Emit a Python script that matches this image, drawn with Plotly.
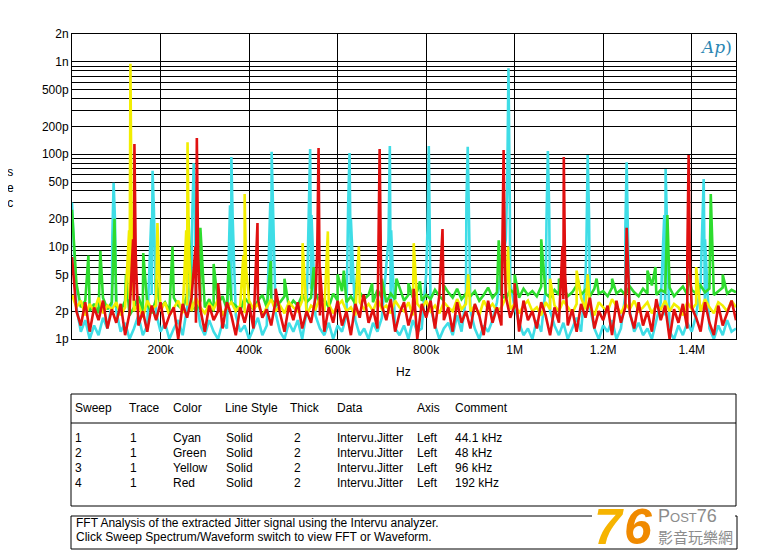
import math
import plotly.graph_objects as go

# ---------------- data (values in ps, frequencies in kHz) ----------------
grid_khz = list(range(0, 1501, 10))

cyan_noise = [30, 2.2, 1.2, 1.6, 1.0, 1.4, 1.1, 1.7, 1.3, 2.4,
              2.0, 1.2, 1.5, 1.0, 1.3, 1.8, 1.1, 1.4, 3.0, 1.9,
              1.2, 1.5, 1.0, 1.3, 1.6, 1.1, 2.2, 5.0, 2.8, 1.4,
              1.1, 1.6, 1.2, 1.0, 1.5, 1.3, 2.5, 1.8, 1.2, 1.4,
              1.0, 1.3, 1.7, 1.1, 1.4, 2.6, 1.9, 1.2, 1.0, 1.5,
              1.2, 1.6, 1.0, 2.0, 3.5, 1.8, 1.3, 1.1, 1.5, 1.0,
              1.4, 1.2, 1.8, 4.0, 1.6, 1.1, 1.3, 1.0, 1.5, 1.2,
              1.7, 6.0, 2.5, 1.3, 1.1, 1.4, 1.0, 1.6, 1.2, 1.3,
              5.0, 2.2, 1.4, 1.0, 1.3, 1.5, 1.1, 1.8, 1.2, 2.8,
              2.0, 1.3, 1.0, 1.4, 1.2, 1.6, 2.5, 6.0, 12, 4.0,
              2.2, 1.5, 1.1, 1.3, 1.0, 1.6, 1.2, 3.5, 2.0, 1.4,
              1.1, 1.5, 1.0, 1.3, 1.7, 1.2, 4.5, 2.2, 1.3, 1.0,
              1.4, 1.2, 1.6, 1.0, 1.3, 3.0, 2.0, 1.2, 1.5, 1.1,
              1.3, 1.0, 1.6, 2.5, 1.8, 1.2, 1.0, 1.4, 1.1, 1.5,
              1.2, 1.8, 4.0, 2.0, 1.3, 1.0, 1.4, 1.1, 1.6, 1.2, 1.3]
cyan_spur_khz = [91, 94, 97, 179, 182, 185, 272, 275, 278, 357, 360, 363,
                 448, 451, 454, 535, 538, 541, 624, 627, 630, 715, 718, 721,
                 803, 806, 809, 891, 894, 897, 983, 986, 989, 1072, 1075, 1078,
                 1162, 1165, 1168, 1250, 1253, 1256, 1338, 1341, 1344, 1424, 1427, 1430]
cyan_spur_ps = [12, 49, 20, 20, 66, 25, 25, 80, 22, 28, 93, 20,
                30, 106, 25, 30, 114, 22, 30, 103, 20, 12, 123, 15,
                15, 123, 12, 30, 120, 18, 40, 850, 30, 20, 108, 25,
                10, 98, 22, 15, 82, 12, 22, 69, 15, 15, 54, 12]

green_noise = [25, 4.0, 2.2, 2.6, 2.0, 2.4, 1.9, 2.8, 2.1, 2.5,
               2.3, 2.0, 2.6, 1.8, 2.2, 2.9, 2.0, 2.4, 1.9, 2.7,
               2.2, 2.5, 2.0, 2.8, 2.3, 2.1, 3.0, 2.4, 2.0, 2.6,
               2.2, 2.7, 2.0, 2.4, 2.9, 2.1, 2.5, 2.3, 2.0, 2.8,
               2.4, 2.1, 2.6, 3.0, 2.2, 2.7, 2.3, 2.5, 2.9, 2.2,
               2.6, 2.3, 3.0, 2.5, 2.8, 3.2, 2.4, 2.7, 2.2, 3.1,
               2.6, 3.3, 2.5, 2.9, 2.4, 3.2, 2.7, 3.0, 2.5, 3.4,
               2.8, 2.5, 3.1, 2.7, 3.5, 2.6, 3.0, 2.8, 3.3, 2.6,
               3.0, 2.7, 3.4, 2.9, 2.6, 3.2, 2.8, 3.5, 2.7, 3.1,
               2.9, 3.3, 2.6, 3.0, 3.6, 2.8, 3.2, 3.0, 2.7, 3.4,
               3.1, 2.8, 3.5, 3.0, 3.3, 2.9, 3.7, 3.1, 2.8, 3.4,
               3.0, 3.6, 2.9, 3.2, 3.8, 3.0, 3.4, 2.9, 3.5, 3.1,
               3.3, 2.9, 3.6, 3.1, 3.4, 3.0, 3.7, 3.2, 2.9, 3.5,
               3.1, 3.8, 3.0, 3.4, 3.2, 3.6, 2.9, 3.3, 3.7, 3.0,
               3.4, 3.1, 3.8, 3.2, 3.5, 3.0, 3.3, 3.6, 3.1, 3.4, 3.2]
green_spur_khz = [37, 64, 96, 122, 161, 190, 227, 263, 290, 320, 354, 449, 480,
                  546, 600, 614, 646, 678, 700, 733, 760, 786, 840, 964, 1000,
                  1060, 1100, 1142, 1185, 1220, 1300, 1318, 1345, 1392, 1443, 1470]
green_spur_ps = [8, 9, 20, 5, 8.5, 4.5, 10, 21, 16, 6.5, 7, 7, 4.5,
                 6, 5, 5.5, 7, 4, 4.5, 4.5, 4, 4.2, 3.8, 11.7, 5,
                 12, 4.5, 4.5, 4.5, 4.5, 5.5, 6, 22, 5, 37, 5]

yellow_noise = [3.0, 2.2, 2.6, 1.8, 2.4, 2.0, 2.8, 1.9, 2.3, 2.1,
                2.5, 1.8, 2.2, 2.7, 2.0, 2.4, 1.7, 2.6, 2.1, 2.3,
                2.0, 2.5, 1.8, 2.2, 2.6, 1.9, 2.3, 2.0, 2.8, 2.2,
                1.9, 2.4, 2.1, 2.7, 1.8, 2.2, 2.5, 2.0, 2.3, 1.9,
                2.6, 2.1, 2.4, 1.8, 2.2, 2.7, 2.0, 2.3, 1.9, 2.5,
                2.2, 2.0, 2.6, 1.8, 2.3, 2.1, 2.8, 2.0, 2.4, 1.9,
                2.3, 2.6, 2.0, 2.2, 1.8, 2.5, 2.1, 2.4, 2.0, 2.7,
                2.1, 2.3, 1.9, 2.6, 2.2, 2.0, 2.5, 1.8, 2.4, 2.1,
                2.6, 2.0, 2.3, 1.9, 2.5, 2.2, 2.0, 2.7, 2.1, 2.4,
                2.0, 2.3, 1.8, 2.6, 2.1, 2.4, 2.0, 2.2, 2.8, 2.1,
                2.4, 1.9, 2.3, 2.6, 2.0, 2.2, 1.8, 2.5, 2.1, 2.3,
                2.0, 2.6, 2.2, 1.9, 2.4, 2.8, 2.1, 2.3, 1.8, 2.5,
                2.2, 2.0, 2.7, 2.3, 1.9, 2.4, 2.1, 2.6, 2.0, 2.2,
                2.5, 1.9, 2.3, 2.1, 2.6, 2.0, 2.4, 2.2, 1.8, 2.5,
                2.1, 2.4, 2.0, 2.7, 2.2, 1.9, 2.5, 2.3, 2.0, 2.6, 2.2]
yellow_spur_khz = [129, 132, 135, 193, 258, 261, 264, 387, 390, 393, 521, 578,
                   648, 772, 895, 985, 1080, 1140, 1165, 1410]
yellow_spur_ps = [15, 950, 12, 18, 15, 135, 10, 8, 37, 6, 10.9, 14.6,
                  10, 10.9, 5, 10, 4.5, 5.5, 5, 6]

red_noise = [7.7, 2.0, 1.4, 2.5, 1.2, 2.2, 1.6, 2.6, 1.3, 2.1,
             1.5, 2.4, 1.1, 1.9, 2.6, 1.4, 2.0, 1.2, 2.3, 1.6,
             2.5, 1.3, 1.8, 2.2, 1.0, 2.4, 1.7, 2.8, 1.5, 2.1,
             1.2, 2.3, 1.6, 2.0, 1.3, 2.5, 1.8, 1.1, 2.2, 1.5,
             2.4, 1.3, 2.7, 1.7, 2.1, 1.4, 2.6, 1.9, 1.2, 2.3,
             1.6, 2.5, 1.3, 2.0, 1.5, 2.8, 1.8, 1.2, 2.2, 1.5,
             2.6, 1.4, 2.0, 1.1, 2.4, 1.7, 2.9, 1.5, 2.1, 1.3,
             2.3, 1.6, 2.7, 1.2, 1.9, 2.5, 1.4, 2.1, 1.0, 2.4,
             1.7, 2.6, 1.3, 3.0, 1.6, 2.2, 1.2, 2.5, 1.5, 2.0,
             1.3, 2.4, 1.8, 1.1, 2.6, 1.5, 2.2, 1.4, 2.9, 1.7,
             2.3, 1.2, 2.6, 1.6, 2.0, 1.3, 2.5, 1.8, 1.1, 2.2,
             1.5, 2.7, 1.4, 2.1, 1.2, 2.4, 1.7, 2.8, 1.3, 2.0,
             1.6, 2.3, 1.1, 2.6, 1.5, 2.2, 1.9, 1.3, 2.5, 1.4,
             2.0, 1.2, 2.7, 1.6, 2.3, 1.0, 2.1, 1.5, 2.4, 1.3,
             2.2, 1.7, 1.2, 2.5, 1.5, 1.1, 2.3, 1.4, 1.9, 2.6, 1.6]
red_spur_khz = [138, 141, 144, 279, 282, 285, 419, 554, 557, 560, 692, 695, 698,
                837, 972, 975, 978, 1108, 1111, 1114, 1253, 1390, 1393, 1396,
                330, 460, 658, 772, 1000]
red_spur_ps = [12, 129, 8, 10, 150, 8, 18, 9, 117, 6, 8, 114, 6,
               15.5, 12, 111, 6, 10, 93, 5, 16, 8, 98, 6,
               4, 3.5, 3, 3.5, 4]

series_names = ["Cyan", "Green", "Yellow", "Red"]
series_colors = ["#3fdde6", "#2edc2e", "#f2ee00", "#e01010"]

x_tick_vals = [200e3, 400e3, 600e3, 800e3, 1.0e6, 1.2e6, 1.4e6]
x_tick_text = ["200k", "400k", "600k", "800k", "1M", "1.2M", "1.4M"]
y_label_map = {1e-12: "1p", 2e-12: "2p", 5e-12: "5p", 1e-11: "10p", 2e-11: "20p",
               5e-11: "50p", 1e-10: "100p", 2e-10: "200p", 5e-10: "500p",
               1e-9: "1n", 2e-9: "2n"}

table_header = ["Sweep", "Trace", "Color", "Line Style", "Thick", "Data", "Axis", "Comment"]
table_rows = [["1", "1", "Cyan", "Solid", "2", "Intervu.Jitter", "Left", "44.1 kHz"],
              ["2", "1", "Green", "Solid", "2", "Intervu.Jitter", "Left", "48 kHz"],
              ["3", "1", "Yellow", "Solid", "2", "Intervu.Jitter", "Left", "96 kHz"],
              ["4", "1", "Red", "Solid", "2", "Intervu.Jitter", "Left", "192 kHz"]]
comment_lines = ["FFT Analysis of the extracted Jitter signal using the Intervu analyzer.",
                 "Click Sweep Spectrum/Waveform switch to view FFT or Waveform."]

# ---------------- build ----------------
def merge(noise, spur_f, spur_v):
    pts = sorted(list(zip(grid_khz, noise)) + list(zip(spur_f, spur_v)))
    return [p[0] * 1e3 for p in pts], [p[1] * 1e-12 for p in pts]

series = [merge(cyan_noise, cyan_spur_khz, cyan_spur_ps),
          merge(green_noise, green_spur_khz, green_spur_ps),
          merge(yellow_noise, yellow_spur_khz, yellow_spur_ps),
          merge(red_noise, red_spur_khz, red_spur_ps)]

# the page places the figure 8 px from the top-left corner
OFF = 8
W, H = 757 - OFF, 555 - OFF
PX0, PX1, PY0, PY1 = 72, 736, 34, 339          # plot area in page pixels
L, T = PX0 - OFF, PY0 - OFF
R, B = W - (PX1 - OFF), H - (PY1 - OFF)
PW, PH = PX1 - PX0, PY1 - PY0

def px(x):
    return (x - PX0) / PW

def py(y):
    return (PY1 - y) / PH

fig = go.Figure()
for (fx, fy), name, col in zip(series, series_names, series_colors):
    fig.add_trace(go.Scatter(x=fx, y=fy, mode="lines", name=name,
                             line=dict(color=col, width=2.6), showlegend=False))

y_tick_vals = []
for d in range(-12, -8):
    for m in range(1, 10):
        v = m * 10.0 ** d
        if v <= 2.0001e-9:
            y_tick_vals.append(v)
y_tick_text = []
for v in y_tick_vals:
    lab = ""
    for k, t in y_label_map.items():
        if abs(v - k) / k < 1e-6:
            lab = t
    y_tick_text.append(lab)

FONT = "Arial, Liberation Sans, sans-serif"
fig.update_layout(
    width=W, height=H, margin=dict(l=L, r=R, t=T, b=B),
    paper_bgcolor="white", plot_bgcolor="white",
    font=dict(family=FONT, size=12, color="black"),
    xaxis=dict(range=[0, 1.5e6], tickvals=x_tick_vals, ticktext=x_tick_text,
               showgrid=True, gridcolor="black", gridwidth=1, zeroline=False,
               showline=True, linecolor="black", linewidth=1, mirror=True,
               ticks="", tickfont=dict(size=12)),
    yaxis=dict(type="log", range=[-12, math.log10(2e-9)], tickvals=y_tick_vals,
               ticktext=y_tick_text, showgrid=True, gridcolor="black", gridwidth=1,
               zeroline=False, showline=True, linecolor="black", linewidth=1,
               mirror=True, ticks="", tickfont=dict(size=12)),
)

ann = []
ann.append(dict(text="s<br>e<br>c", x=px(10), y=py(188), xref="paper", yref="paper",
                showarrow=False, font=dict(size=12), xanchor="center", yanchor="middle"))
ann.append(dict(text="Hz", x=px(403), y=py(372), xref="paper", yref="paper",
                showarrow=False, font=dict(size=12), xanchor="center", yanchor="middle"))
ann.append(dict(text="<i>Ap</i>)", x=px(716), y=py(47), xref="paper", yref="paper",
                showarrow=False, font=dict(size=17, color="#2b86b3", family="DejaVu Serif"),
                xanchor="center", yanchor="middle"))

col_x = [73, 127, 171, 223, 288, 335, 415, 453]
row_col_x = [73, 128, 171, 224, 292, 335, 415, 453]
for t, cx in zip(table_header, col_x):
    ann.append(dict(text=t, x=px(cx), y=py(408), xref="paper", yref="paper",
                    showarrow=False, xanchor="left", yanchor="middle", font=dict(size=12)))
row_y = [438, 453, 468, 483]
for row, ry in zip(table_rows, row_y):
    for t, cx in zip(row, row_col_x):
        ann.append(dict(text=t, x=px(cx), y=py(ry), xref="paper", yref="paper",
                        showarrow=False, xanchor="left", yanchor="middle", font=dict(size=12)))
for t, ry in zip(comment_lines, [523, 537]):
    ann.append(dict(text=t, x=px(74), y=py(ry), xref="paper", yref="paper",
                    showarrow=False, xanchor="left", yanchor="middle", font=dict(size=12)))

# watermark
ann.append(dict(text="<b><i>7</i></b>", x=px(609), y=py(527), xref="paper", yref="paper",
                showarrow=False, xanchor="center", yanchor="middle",
                font=dict(size=50, color="#f6b400", family="Liberation Sans")))
ann.append(dict(text="<b><i>6</i></b>", x=px(638), y=py(527), xref="paper", yref="paper",
                showarrow=False, xanchor="center", yanchor="middle",
                font=dict(size=50, color="#f08a00", family="Liberation Sans")))
ann.append(dict(text="P<span style='font-size:13px'>OST</span>76", x=px(656), y=py(516),
                xref="paper", yref="paper", showarrow=False, xanchor="left", yanchor="middle",
                font=dict(size=18, color="#8c8c8c", family="Liberation Sans")))
ann.append(dict(text="影音玩樂網", x=px(656), y=py(536), xref="paper", yref="paper",
                showarrow=False, xanchor="left", yanchor="middle",
                font=dict(size=15, color="#8c8c8c", family="Noto Sans CJK TC")))

shapes = [
    dict(type="rect", xref="paper", yref="paper", x0=px(71), x1=px(736), y0=py(394), y1=py(506),
         line=dict(color="black", width=1)),
    dict(type="line", xref="paper", yref="paper", x0=px(71), x1=px(736), y0=py(423), y1=py(423),
         line=dict(color="black", width=1)),
    dict(type="rect", xref="paper", yref="paper", x0=px(71), x1=px(737), y0=py(516), y1=py(549),
         line=dict(color="black", width=1)),
    dict(type="rect", xref="paper", yref="paper", x0=px(592), x1=px(735), y0=py(508), y1=py(547),
         line=dict(width=0), fillcolor="white"),
]
fig.update_layout(annotations=ann, shapes=shapes)
fig.write_html("out.html")
